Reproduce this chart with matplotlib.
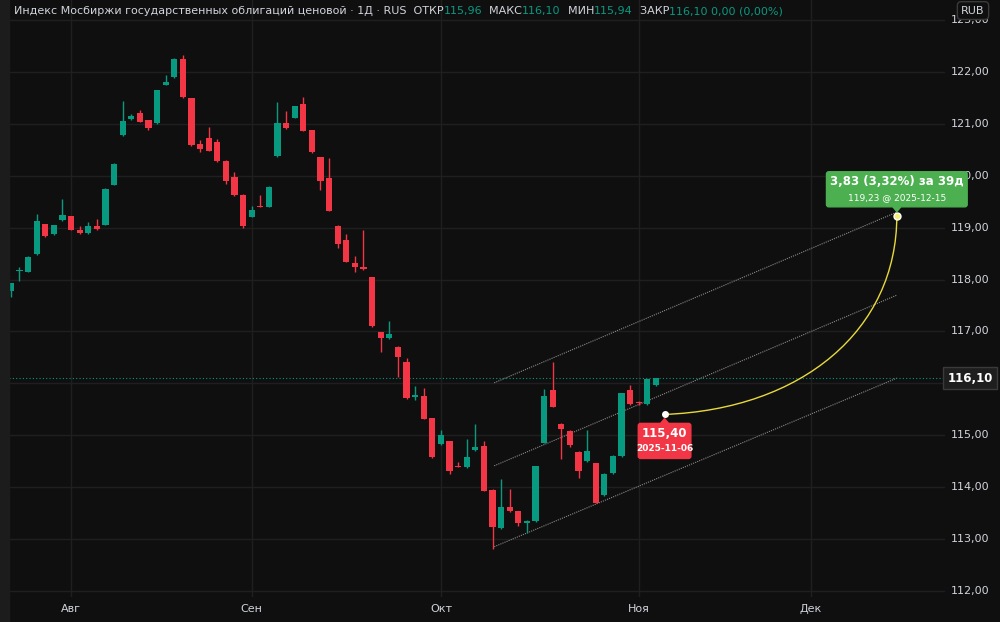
import matplotlib
matplotlib.use("Agg")
import matplotlib.pyplot as plt
import numpy as np
from matplotlib.patches import Polygon
from matplotlib.path import Path
import matplotlib.patches as mpatches

opens = [117.77,118.16,118.15,118.49,119.07,118.87,119.14,119.22,118.96,118.89,119.04,119.06,119.83,120.78,121.09,121.21,121.07,121.01,121.76,121.90,
         122.26,121.50,120.61,120.73,120.65,120.29,119.98,119.64,119.21,119.42,119.40,120.38,121.02,121.12,121.39,120.88,120.36,119.96,119.04,118.76,
         118.32,118.25,118.04,116.98,116.87,116.70,116.41,115.74,115.75,115.33,114.83,114.88,114.41,114.38,114.71,114.80,113.95,113.21,113.61,113.53,
         113.30,113.34,114.85,115.87,115.22,115.09,114.68,114.50,114.46,113.84,114.27,114.59,115.87,115.64,115.60,115.96]
highs = [117.94,118.25,118.46,119.27,119.08,119.06,119.55,119.23,119.04,119.11,119.17,119.77,120.25,121.44,121.20,121.27,121.08,121.66,121.94,122.28,
         122.33,121.51,120.69,120.95,120.71,120.30,120.07,119.65,119.42,119.64,119.80,121.42,121.25,121.35,121.52,120.89,120.37,120.35,119.05,118.87,
         118.45,118.96,118.05,116.99,117.20,116.71,116.48,115.94,115.90,115.34,115.10,114.89,114.48,114.92,115.22,114.88,113.96,114.16,113.97,113.54,
         113.36,114.41,115.89,116.41,115.23,115.10,114.69,115.10,114.47,114.27,114.61,115.82,115.97,115.65,116.09,116.10]
lows = [117.66,117.98,118.14,118.48,118.83,118.86,119.13,118.95,118.88,118.88,118.96,119.05,119.82,120.77,121.08,121.03,120.88,121.00,121.75,121.89,
        121.51,120.58,120.46,120.47,120.27,119.85,119.62,119.00,119.20,119.39,119.39,120.37,120.91,121.11,120.86,120.44,119.72,119.32,118.61,118.33,
        118.15,118.19,117.09,116.61,116.86,116.13,115.70,115.68,115.31,114.56,114.82,114.25,114.38,114.37,114.70,113.92,112.81,113.20,113.52,113.24,
        113.11,113.33,114.84,115.54,114.54,114.78,114.18,114.49,113.69,113.83,114.26,114.58,115.59,115.58,115.59,115.94]
closes = [117.94,118.16,118.44,119.13,118.84,119.05,119.24,118.96,118.89,119.03,118.97,119.75,120.23,121.06,121.16,121.04,120.93,121.65,121.80,122.25,
          121.52,120.59,120.51,120.48,120.28,119.91,119.63,119.03,119.34,119.40,119.79,121.02,120.92,121.34,120.87,120.45,119.91,119.33,118.68,118.34,
          118.24,118.20,117.10,116.87,116.95,116.50,115.71,115.78,115.32,114.58,115.01,114.31,114.39,114.57,114.78,113.93,113.22,113.61,113.53,113.30,
          113.35,114.40,115.76,115.55,115.12,114.81,114.30,114.70,113.70,114.25,114.60,115.81,115.60,115.62,116.08,116.10]
first_index = -7  # trading-day index relative to 2025-08-01

month_labels = ["Авг", "Сен", "Окт", "Ноя", "Дек"]
month_index = [0, 21, 43, 66, 86]
price_ticks = [112, 113, 114, 115, 116, 117, 118, 119, 120, 121, 122, 123]

channel_x = [49.2, 96.0]
channel_low = [112.85, 116.10]
channel_mid = [114.41, 117.70]
channel_up = [116.01, 119.30]

proj_start = (69, 115.40)
proj_end = (96, 119.23)
last_price = 116.10

BG = "#0f0f0f"
GREEN = "#089981"
RED = "#f23645"
LGREEN = "#4caf50"
GRID = "#1f1f1f"
TXT = "#d1d4dc"

fig = plt.figure(figsize=(10, 6.22), dpi=100, facecolor=BG)
ax = fig.add_axes([0.009, 1 - 597/622, 0.936, 597/622])
ax.set_facecolor(BG)
ax.set_xlim(-7.21, 101.6)
ax.set_ylim(111.88, 123.39)
for s in ax.spines.values():
    s.set_visible(False)
ax.set_xticks([]); ax.set_yticks([])
fig.patches.append(mpatches.Rectangle((0, 0), 0.009, 1, transform=fig.transFigure, color="#1c1c1c"))

for p in price_ticks:
    ax.axhline(p, color=GRID, lw=1, zorder=0)
    ax.text(1.0 + 25/936, p, f"{p},00", transform=ax.get_yaxis_transform(),
            ha="center", va="center", color=TXT, fontsize=8, clip_on=False)
for m, lab in zip(month_index, month_labels):
    ax.axvline(m, color=GRID, lw=1, zorder=0)
    ax.text(m, -0.02, lab, transform=ax.get_xaxis_transform(), ha="center", va="center",
            color=TXT, fontsize=8, clip_on=False)

for k, (o, h, l, c) in enumerate(zip(opens, highs, lows, closes)):
    x = first_index + k
    col = GREEN if c >= o else RED
    ax.vlines(x, l, h, color=col, lw=1, zorder=2)
    b0, b1 = min(o, c), max(o, c)
    if b1 - b0 < 0.02:
        b1 = b0 + 0.02
    ax.add_patch(mpatches.Rectangle((x - 0.36, b0), 0.72, b1 - b0, color=col, zorder=3, lw=0))

for ys in (channel_low, channel_mid, channel_up):
    ax.plot(channel_x, ys, color="#8a8a8a", lw=0.8, ls=(0, (1, 1)), zorder=1)

ax.axhline(last_price, color=GREEN, lw=0.8, ls=(0, (1, 2)), zorder=1)

x0, y0 = proj_start; x1, y1 = proj_end
verts = [(x0, y0), (x0 + 16, y0 + 0.1), (x1, y1 - 2.2), (x1, y1)]
path = Path(verts, [Path.MOVETO, Path.CURVE4, Path.CURVE4, Path.CURVE4])
ax.add_patch(mpatches.PathPatch(path, fill=False, color="#e8d93a", lw=1, zorder=4))
ax.plot([x0], [y0], "o", color="white", ms=4, zorder=5)
ax.plot([x1], [y1], "o", color="#f5f07a", ms=5, mec="white", zorder=5)

ax.annotate("115,40\n", (x0, y0), xytext=(0, -9), textcoords="offset points", ha="center", va="top",
            color="white", fontsize=8.5, fontweight="bold", zorder=6,
            bbox=dict(boxstyle="round,pad=0.3,rounding_size=0.2", fc=RED, ec=RED))
ax.annotate("2025-11-06", (x0, y0), xytext=(0, -21), textcoords="offset points", ha="center", va="top",
            color="white", fontsize=6.5, fontweight="bold", zorder=7)
ax.add_patch(Polygon([(x0 - 0.45, y0 - 0.17), (x0, y0 - 0.08), (x0 + 0.45, y0 - 0.17)], color=RED, zorder=6))

ax.annotate("3,83 (3,32%) за 39д\n", (x1, y1), xytext=(0, 9), textcoords="offset points", ha="center",
            va="bottom", color="white", fontsize=8.5, fontweight="bold", zorder=6,
            bbox=dict(boxstyle="round,pad=0.3,rounding_size=0.2", fc=LGREEN, ec=LGREEN))
ax.annotate("119,23 @ 2025-12-15", (x1, y1), xytext=(0, 10), textcoords="offset points", ha="center",
            va="bottom", color="white", fontsize=6.5, zorder=7)
ax.add_patch(Polygon([(x1 - 0.45, y1 + 0.17), (x1, y1 + 0.08), (x1 + 0.45, y1 + 0.17)], color=LGREEN, zorder=6))

ax.text(1.0 + 25/936, last_price, "116,10", transform=ax.get_yaxis_transform(), ha="center", va="center",
        color="white", fontsize=8.5, fontweight="bold", clip_on=False, zorder=8,
        bbox=dict(boxstyle="square,pad=0.35", fc="#1e1e1e", ec="#3a3a3a"))
fig.text(0.973, 0.983, "RUB", ha="center", va="center", color=TXT, fontsize=8, zorder=10,
         bbox=dict(boxstyle="round,pad=0.35", fc=BG, ec="#3a3a3a"))

pieces = [("Индекс Мосбиржи государственных облигаций ценовой · 1Д · RUS  ОТКР", TXT), ("115,96", GREEN),
          ("  МАКС", TXT), ("116,10", GREEN), ("  МИН", TXT), ("115,94", GREEN), ("  ЗАКР", TXT),
          ("116,10 0,00 (0,00%)", GREEN)]
fig.canvas.draw()
r = fig.canvas.get_renderer()
xpos = 14
for s, col in pieces:
    t = fig.text(xpos / 1000, 1 - 11 / 622, s, color=col, fontsize=8, va="center", ha="left")
    xpos += t.get_window_extent(r).width

fig.savefig("out.png", dpi=100, facecolor=BG)
